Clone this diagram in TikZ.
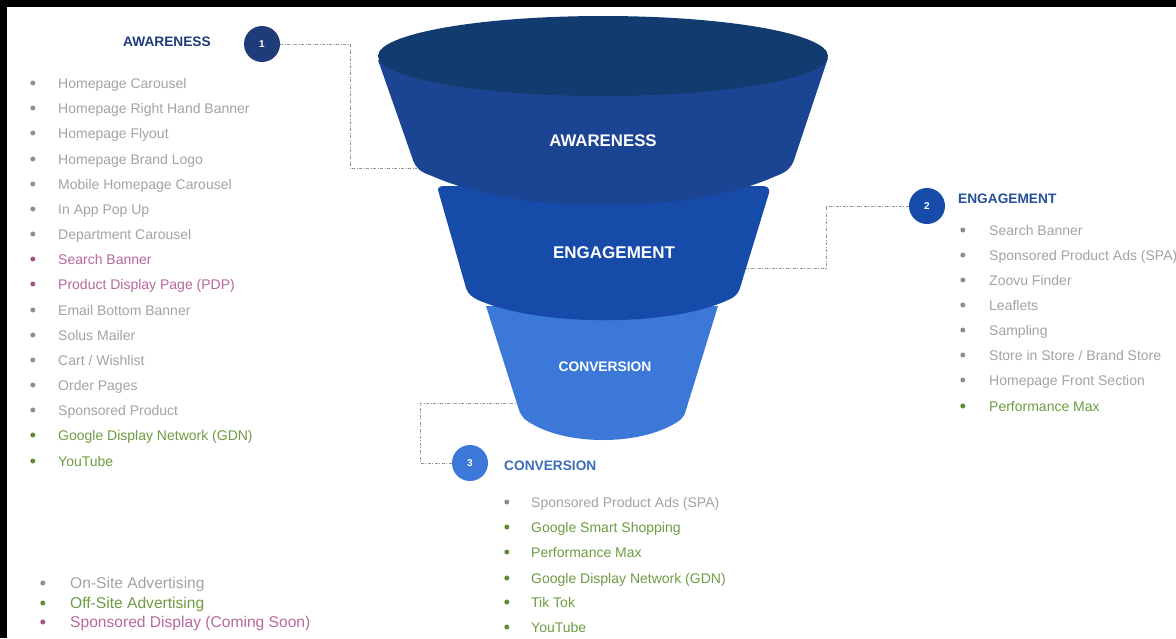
\documentclass[tikz,border=0pt]{standalone}
\usepackage{fontspec}
\setmainfont{Liberation Sans}
\definecolor{rimblue}{HTML}{123B6F}
\definecolor{awareblue}{HTML}{1B4592}
\definecolor{engageblue}{HTML}{174BAA}
\definecolor{convblue}{HTML}{3B78D8}
\definecolor{headnavy}{HTML}{1F3C7A}
\definecolor{headblue}{HTML}{25509A}
\definecolor{headsky}{HTML}{3D6CB8}
\definecolor{ongray}{HTML}{A3A3A3}
\definecolor{ondot}{HTML}{8E8E8E}
\definecolor{offgreen}{HTML}{6E9C42}
\definecolor{offdot}{HTML}{5E8C34}
\definecolor{dispink}{HTML}{B8689B}
\definecolor{disdot}{HTML}{A05585}
\definecolor{dashgray}{HTML}{939393}
\newcommand{\entryfont}{\fontsize{14}{16}\selectfont}
\newcommand{\keyfont}{\fontsize{15.6}{18}\selectfont}
\newcommand{\capfont}{\bfseries\fontsize{13.7}{16}\selectfont}
\tikzset{
    item/.style={anchor=west, inner sep=0pt, text height=10pt, text depth=0pt, font=\entryfont},
    bul/.style={circle, inner sep=0pt, minimum size=5pt},
    onsite/.style={item, text=ongray, label={[bul, fill=ondot, label distance=#1]left:{}}},
    onsite/.default=22.5pt,
    offsite/.style={item, text=offgreen, label={[bul, fill=offdot, label distance=#1]left:{}}},
    offsite/.default=22.5pt,
    display/.style={item, text=dispink, label={[bul, fill=disdot, label distance=#1]left:{}}},
    display/.default=22.5pt,
    heading/.style={anchor=west, inner sep=0pt, text height=10pt, text depth=0pt, font=\capfont},
    numdot/.style={circle, minimum size=36pt, inner sep=0pt, text=white, font=\bfseries\fontsize{10}{10}\selectfont},
    stage/.style={text=white, font=\bfseries\fontsize{#1}{#1}\selectfont},
    link/.style={draw=dashgray, line width=0.9pt, dash pattern=on 3pt off 1.5pt on 1pt off 1.5pt},
}
\begin{document}
\begin{tikzpicture}[x=1pt, y=-1pt]
\useasboundingbox (0,0) rectangle (1176,638);
\fill[black] (0,0) rectangle (1176,638);
\fill[white] (7,7) rectangle (1176,638);

% funnel, bottom piece first
\fill[convblue] (486,306) -- (519,410) .. controls (522,418) and (526,421) .. (534,425)
    .. controls (570,445) and (636,445) .. (672,425) .. controls (680,421) and (684,418) .. (686,410)
    -- (718,306) -- cycle;
\fill[engageblue] (438,190) .. controls (438,186) and (442,186) .. (446,186) -- (762,186)
    .. controls (767,186) and (770,188) .. (769,193)
    -- (740,288) .. controls (738,294) and (735,297) .. (728,300)
    .. controls (670,327) and (540,327) .. (478,300) .. controls (472,297) and (468,294) .. (466,288) -- cycle;
\fill[awareblue] (378,60) -- (413,160) .. controls (416,168) and (420,172) .. (432,176)
    .. controls (520,215) and (690,215) .. (776,176) .. controls (787,172) and (791,168) .. (794,160)
    -- (828,58) -- cycle;
\fill[rimblue] (603,56) ellipse [x radius=225, y radius=40];

\node[stage=16.8] (awlabel) at (603,141) {AWARENESS};
\node[stage=17] (enlabel) at (614,253) {ENGAGEMENT};
\node[stage=13.8] (cvlabel) at (605,367) {CONVERSION};

% where the dashed links meet the funnel
\coordinate (awedge) at (417,168);
\coordinate (enedge) at (746,268);
\coordinate (cvedge) at (516,403);

\node[numdot, fill=headnavy] (n1) at (262,44) {1};
\node[numdot, fill=engageblue] (n2) at (927,206) {2};
\node[numdot, fill=convblue] (n3) at (470,463) {3};

\draw[link] (n1.east) -- (350,44) |- (awedge);
\draw[link] (n2.west) -- (826,206) |- (enedge);
\draw[link] (n3.west) -- (420,463) |- (cvedge);

% awareness list
\node[heading, text=headnavy] (awhead) at (123,41) {AWARENESS};
\node[onsite] (a1) at (58,83) {Homepage Carousel};
\node[onsite] (a2) at (58,108) {Homepage Right Hand Banner};
\node[onsite] (a3) at (58,133) {Homepage Flyout};
\node[onsite] (a4) at (58,159) {Homepage Brand Logo};
\node[onsite] (a5) at (58,184) {Mobile Homepage Carousel};
\node[onsite] (a6) at (58,209) {In App Pop Up};
\node[onsite] (a7) at (58,234) {Department Carousel};
\node[display] (a8) at (58,259) {Search Banner};
\node[display] (a9) at (58,284) {Product Display Page (PDP)};
\node[onsite] (a10) at (58,310) {Email Bottom Banner};
\node[onsite] (a11) at (58,335) {Solus Mailer};
\node[onsite] (a12) at (58,360) {Cart / Wishlist};
\node[onsite] (a13) at (58,385) {Order Pages};
\node[onsite] (a14) at (58,410) {Sponsored Product};
\node[offsite] (a15) at (58,435) {Google Display Network (GDN)};
\node[offsite] (a16) at (58,461) {YouTube};

% engagement list
\node[heading, text=headblue] (enhead) at (958,198) {ENGAGEMENT};
\node[onsite=23.5pt] (e1) at (989,230) {Search Banner};
\node[onsite=23.5pt] (e2) at (989,255) {Sponsored Product Ads (SPA)};
\node[onsite=23.5pt] (e3) at (989,280) {Zoovu Finder};
\node[onsite=23.5pt] (e4) at (989,305) {Leaflets};
\node[onsite=23.5pt] (e5) at (989,330) {Sampling};
\node[onsite=23.5pt] (e6) at (989,355) {Store in Store / Brand Store};
\node[onsite=23.5pt] (e7) at (989,380) {Homepage Front Section};
\node[offsite=23.5pt] (e8) at (989,406) {Performance Max};

% conversion list
\node[heading, text=headsky] (cvhead) at (504,465) {CONVERSION};
\node[onsite=21.5pt] (c1) at (531,502) {Sponsored Product Ads (SPA)};
\node[offsite=21.5pt] (c2) at (531,527) {Google Smart Shopping};
\node[offsite=21.5pt] (c3) at (531,552) {Performance Max};
\node[offsite=21.5pt] (c4) at (531,578) {Google Display Network (GDN)};
\node[offsite=21.5pt] (c5) at (531,602) {Tik Tok};
\node[offsite=21.5pt] (c6) at (531,627) {YouTube};

% key
\node[onsite=24.5pt, font=\keyfont] (k1) at (70,583) {On-Site Advertising};
\node[offsite=24.5pt, font=\keyfont] (k2) at (70,603) {Off-Site Advertising};
\node[display=24.5pt, font=\keyfont] (k3) at (70,622) {Sponsored Display (Coming Soon)};
\end{tikzpicture}
\end{document}
